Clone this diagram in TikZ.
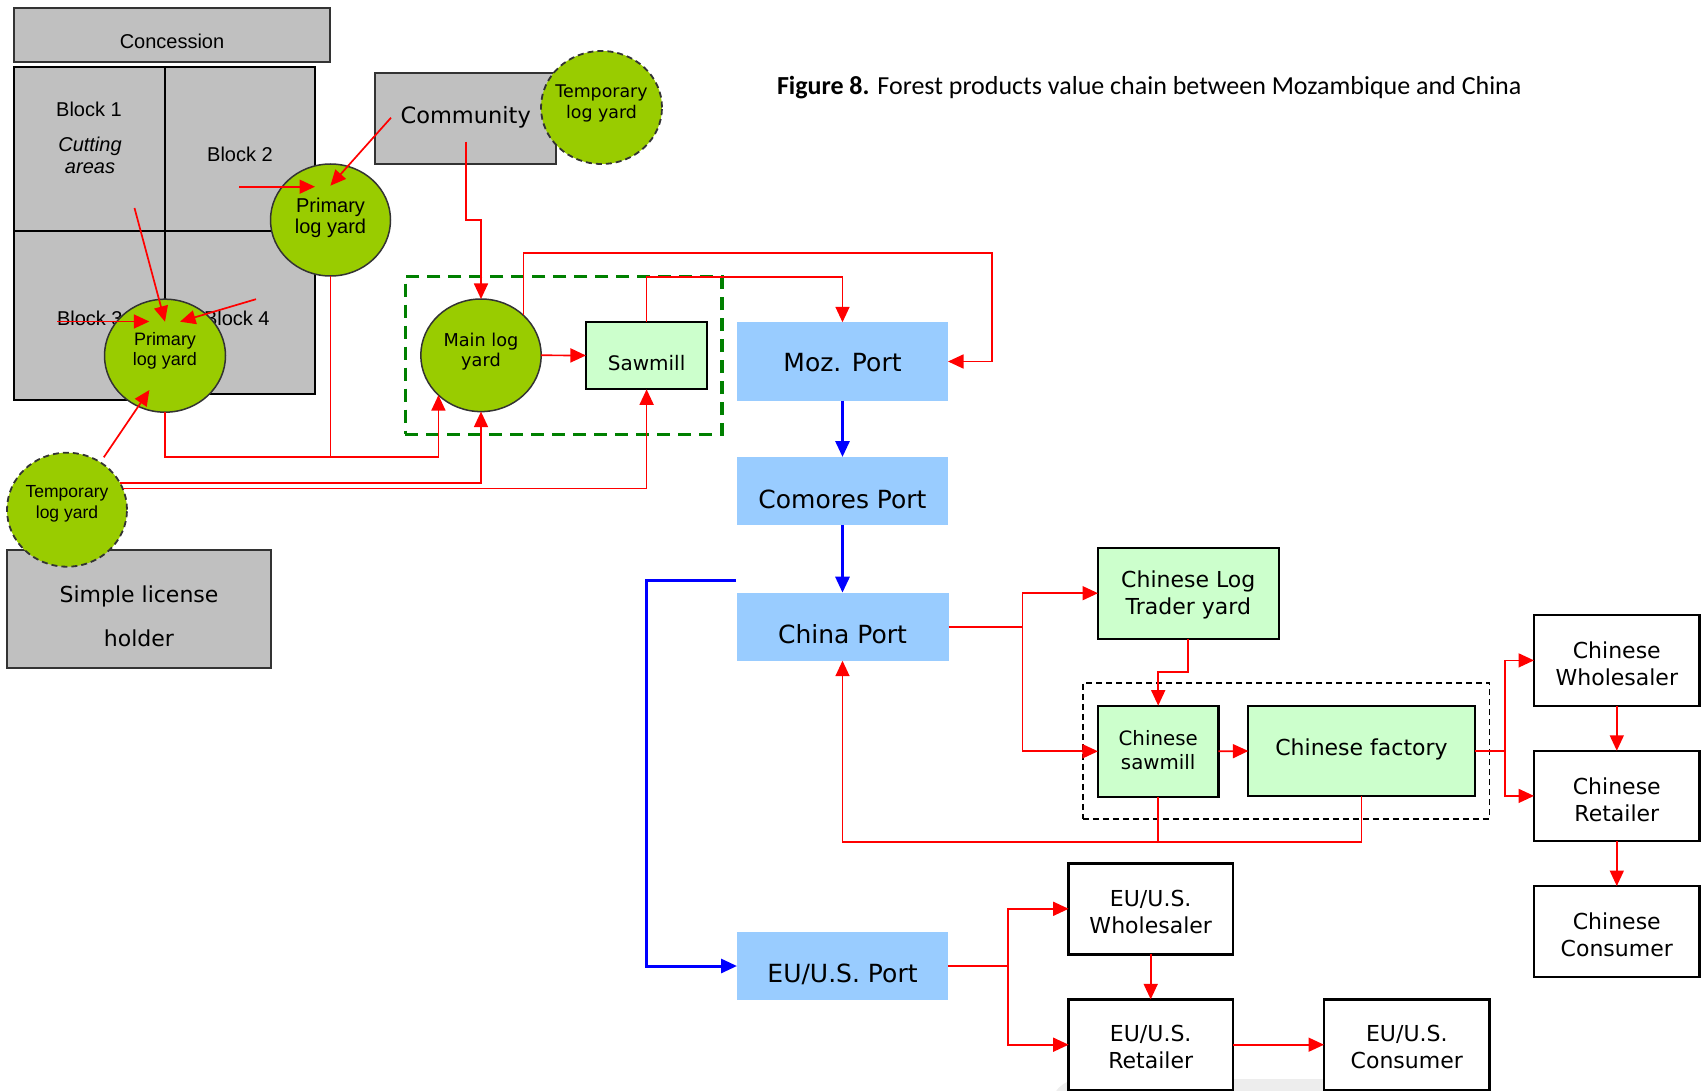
\documentclass[tikz,border=0pt]{standalone}
\usepackage{fontspec}
\setmainfont{Liberation Sans}
\newfontfamily\vfont{DejaVu Sans}
\newfontfamily\capfont{Carlito}
\usetikzlibrary{arrows.meta,shapes.geometric}
\newcommand\txtsize[2]{\fontsize{#1}{#2}\selectfont}

\definecolor{boxgray}{HTML}{C0C0C0}
\definecolor{leaf}{HTML}{99CC00}
\definecolor{mint}{HTML}{CCFFCC}
\definecolor{sky}{HTML}{99CCFF}
\definecolor{forest}{HTML}{008000}
\definecolor{edge}{HTML}{333333}

\begin{document}
\begin{tikzpicture}[x=1pt,y=-1pt,
  every node/.style={inner sep=0pt, outer sep=0pt},
  graybox/.style={rectangle, draw=edge, fill=boxgray, line width=1.6pt},
  blockbox/.style={rectangle, draw=black, fill=boxgray, line width=1.4pt},
  yard/.style={ellipse, draw=edge, fill=leaf, line width=1.5pt},
  tempyard/.style={yard, line width=1.8pt, dash pattern=on 6pt off 4pt},
  mill/.style={rectangle, draw=black, fill=mint, line width=2.2pt},
  port/.style={rectangle, fill=sky},
  trade/.style={rectangle, draw=black, fill=white, line width=2.4pt},
  atxt/.style={align=center, text=black},
  vtxt/.style={align=center, text=black, font=\vfont\txtsize{22}{27}},
  porttxt/.style={text=black, font=\vfont\txtsize{25}{30}},
  redline/.style={draw=red, line width=1.7pt},
  redarrow/.style={redline, -{Triangle[length=15.5pt,width=14pt]}},
  bluearrow/.style={draw=blue, line width=3pt, -{Triangle[length=16pt,width=14pt]}}
]
\useasboundingbox (0,0) rectangle (1702,1091);
\fill[white] (0,0) rectangle (1702,1091);

% faint page element behind the EU boxes
\begin{scope}
  \clip (0,0) rectangle (1702,1091);
  \fill[gray!14, rounded corners=30pt] (1050,1079) rectangle (1440,1140);
\end{scope}

% ---------- concession and cutting blocks ----------
\node[graybox, minimum width=316pt, minimum height=54pt] (conc) at (172,35) {};
\node[atxt, font=\txtsize{20}{24}] (conc-t) at (172,41) {Concession};

\node[blockbox, minimum width=151pt, minimum height=164pt] (blk1) at (89.5,149) {};
\node[blockbox, minimum width=150pt, minimum height=164pt] (blk2) at (240,149) {};
\node[blockbox, minimum width=151pt, minimum height=169pt] (blk3) at (89.5,315.5) {};
\node[blockbox, minimum width=150pt, minimum height=163pt] (blk4) at (240,312.5) {};
\node[atxt, font=\txtsize{20}{24}] (blk1-t) at (89,109) {Block 1};
\node[atxt, font=\itshape\txtsize{20}{22}] (cut-t) at (90,155) {Cutting\\areas};
\node[atxt, font=\txtsize{20}{24}] (blk2-t) at (240,154) {Block 2};
\node[atxt, font=\txtsize{20}{24}, anchor=west] (blk3-t) at (57,318.3) {Block 3};
\node[atxt, font=\txtsize{20}{24}, anchor=west] (blk4-t) at (204,318.3) {Block 4};

% ---------- community ----------
\node[graybox, minimum width=181pt, minimum height=91pt] (comm) at (465.5,118.5) {};
\node[atxt, font=\vfont\txtsize{22.5}{27}] (comm-t) at (465.7,117) {Community};
\node[tempyard, minimum width=121pt, minimum height=113pt] (tup) at (601.5,107.5) {};
\node[atxt, font=\vfont\txtsize{17.4}{20.5}] (tup-t) at (601.5,103.5) {Temporary\\log yard};

% ---------- primary log yards ----------
\node[yard, minimum width=120pt, minimum height=112pt] (pup) at (330.5,220) {};
\node[atxt, font=\txtsize{20}{21}] (pup-t) at (330.5,217.5) {Primary\\log yard};
\node[yard, minimum width=121pt, minimum height=113pt] (plo) at (165,355.7) {};
\node[atxt, font=\txtsize{18}{20}] (plo-t) at (165,350.7) {Primary\\log yard};

% ---------- simple license holder ----------
\node[graybox, minimum width=264pt, minimum height=118pt] (slh) at (139,609) {};
\node[atxt, font=\vfont\txtsize{22}{44}] (slh-t) at (139,616) {Simple license\\holder};
\node[tempyard, minimum width=120pt, minimum height=114pt] (tlo) at (67,509.7) {};
\node[atxt, font=\txtsize{17.5}{21}] (tlo-t) at (67,503.5) {Temporary\\log yard};

% ---------- main log yard and sawmill ----------
\node[draw=forest, line width=3.3pt, dash pattern=on 13pt off 8pt,
      minimum width=316.7pt, minimum height=157.6pt] (mlzone) at (563.65,355.5) {};
\node[yard, minimum width=120.4pt, minimum height=112.6pt] (mly) at (481,355.3) {};
\node[atxt, font=\vfont\txtsize{17.7}{20}] (mly-t) at (481,351.7) {Main log\\yard};
\node[mill, minimum width=121.3pt, minimum height=67.6pt] (saw) at (646.6,355.5) {};
\node[atxt, font=\vfont\txtsize{20}{24}] (saw-t) at (646.6,363) {Sawmill};

% ---------- ports ----------
\node[port, minimum width=211pt, minimum height=78.4pt] (moz) at (842.5,361.5) {};
\node[porttxt] (moz-t) at (842.5,363) {Moz. Port};
\node[port, minimum width=211pt, minimum height=68pt] (com) at (842.5,491) {};
\node[porttxt] (com-t) at (842.5,499) {Comores Port};
\node[port, minimum width=212pt, minimum height=68pt] (china) at (842.5,626.7) {};
\node[porttxt] (china-t) at (842.5,634) {China Port};
\node[port, minimum width=211pt, minimum height=68pt] (eu) at (842.5,966) {};
\node[porttxt] (eu-t) at (842.5,974) {EU/U.S. Port};

% ---------- Chinese processing ----------
\node[draw=black, line width=1.6pt, dash pattern=on 6pt off 4pt,
      minimum width=406.7pt, minimum height=135.7pt] (czone) at (1286.15,750.85) {};
\node[mill, minimum width=180.6pt, minimum height=91pt] (clt) at (1188.3,593.2) {};
\node[vtxt] (clt-t) at (1188.3,595.3) {Chinese Log\\Trader yard};
\node[mill, minimum width=120.5pt, minimum height=91.3pt] (csaw) at (1158.2,751.3) {};
\node[vtxt, font=\vfont\txtsize{19.8}{24}] (csaw-t) at (1158.2,750) {Chinese\\sawmill};
\node[mill, minimum width=226.3pt, minimum height=90.6pt] (cfac) at (1361.5,751) {};
\node[vtxt] (cfac-t) at (1361.5,749) {Chinese factory};

% ---------- Chinese market ----------
\node[trade, minimum width=165.6pt, minimum height=90.7pt] (cwh) at (1616.8,660.4) {};
\node[vtxt] (cwh-t) at (1616.8,663.5) {Chinese\\Wholesaler};
\node[trade, minimum width=165.6pt, minimum height=90.3pt] (cret) at (1616.8,795.9) {};
\node[vtxt] (cret-t) at (1616.8,799.4) {Chinese\\Retailer};
\node[trade, minimum width=165.6pt, minimum height=90.7pt] (ccon) at (1616.8,931.4) {};
\node[vtxt] (ccon-t) at (1616.8,935) {Chinese\\Consumer};

% ---------- EU/U.S. market ----------
\node[trade, minimum width=164.2pt, minimum height=91pt] (euw) at (1150.7,908.8) {};
\node[vtxt] (euw-t) at (1150.7,911.7) {EU/U.S.\\Wholesaler};
\node[trade, minimum width=164.2pt, minimum height=90.7pt] (eur) at (1150.7,1044.7) {};
\node[vtxt] (eur-t) at (1150.7,1047.3) {EU/U.S.\\Retailer};
\node[trade, minimum width=165.6pt, minimum height=90.7pt] (euc) at (1406.8,1044.7) {};
\node[vtxt] (euc-t) at (1406.8,1047.3) {EU/U.S.\\Consumer};

% ---------- title ----------
\node[anchor=base west, font=\capfont\txtsize{26}{30}] (title) at (777,94.3)
  {\textbf{Figure 8.} Forest products value chain between Mozambique and China};

% ---------- free ends of the harvesting arrows ----------
\coordinate (b2src) at (239.4,186.7);
\coordinate (b2dst) at (315,186.7);
\coordinate (commsrc) at (391,117.7);
\coordinate (commdst) at (330.4,185.7);
\coordinate (b1src) at (134.5,208);
\coordinate (b1dst) at (165,321.7);
\coordinate (b3src) at (57,321.5);
\coordinate (b3dst) at (149.3,321.5);
\coordinate (b4src) at (256,299.2);
\coordinate (b4dst) at (180,321.7);
\coordinate (tlosrc) at (103.8,457.3);
\coordinate (tlodst) at (149.4,390);
\coordinate (commdown) at (465.7,141.7);
\coordinate (mozloop) at (992.2,253.3);
\coordinate (bluesrc) at (736,580);

% ---------- harvesting flows ----------
\draw[redarrow] (b2src) -- (b2dst);
\draw[redarrow] (commsrc) -- (commdst);
\draw[redarrow] (b1src) -- (b1dst);
\draw[redarrow] (b3src) -- (b3dst);
\draw[redarrow] (b4src) -- (b4dst);
\draw[redarrow] (tlosrc) -- (tlodst);

% ---------- flows to the main log yard and sawmill ----------
\draw[redarrow] (commdown) -- ++(0,78.6) -| (mly.north);
\draw[redline] (pup.south) -- ++(0,180.7);
\draw[redarrow] (plo.south) -- ++(0,44.5) -| (mly.south west);
\draw[redarrow] (tlo.27) -| (mly.south);
\draw[redarrow] (tlo.21) -| (saw.south);
\draw[redarrow] (mly.east) -- (saw.west);
\draw[redarrow] (saw.north) -- ++(0,-45) -| (moz.north);
\draw[redarrow] (mly.north east) |- (mozloop) |- (moz.east);

% ---------- shipping ----------
\draw[bluearrow] (moz.south) -- (com.north);
\draw[bluearrow] (com.south) -- (china.north);
\draw[bluearrow] (bluesrc) -- ++(-90,0) |- (eu.west);

% ---------- China ----------
\draw[redline] (china.east) -- ++(74,0) coordinate (chinafork);
\draw[redarrow] (chinafork) |- (clt.west);
\draw[redarrow] (chinafork) |- (csaw.west);
\draw[redarrow] (clt.south) -- ++(0,33.3) -| (csaw.north);
\draw[redarrow] (csaw.east) -- (cfac.west);
\draw[redline] (cfac.east) -- ++(30.4,0) coordinate (facfork);
\draw[redarrow] (facfork) |- (cwh.west);
\draw[redarrow] (facfork) |- (cret.west);
\draw[redarrow] (cwh.south) -- (cret.north);
\draw[redarrow] (cret.south) -- (ccon.north);
\draw[redline] (csaw.south) -- ++(0,44.7);
\draw[redarrow] (cfac.south) -- ++(0,45.4) -| (china.south);

% ---------- EU/U.S. ----------
\draw[redline, line width=2.2pt] (eu.east) -- ++(60,0) coordinate (eufork);
\draw[redarrow] (eufork) |- (euw.west);
\draw[redarrow] (eufork) |- (eur.west);
\draw[redarrow] (euw.south) -- (eur.north);
\draw[redarrow] (eur.east) -- (euc.west);
\end{tikzpicture}
\end{document}
